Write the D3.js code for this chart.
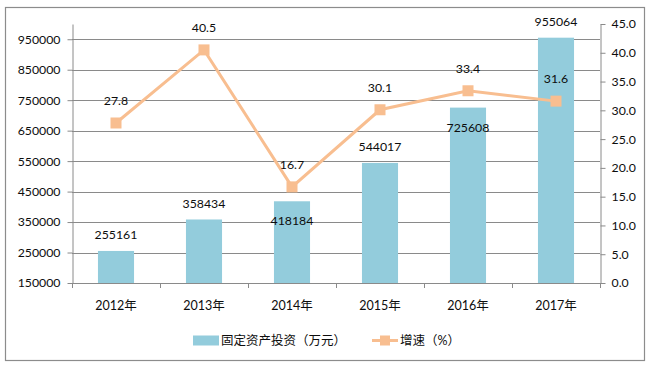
<!DOCTYPE html>
<html>
<head>
<meta charset="utf-8">
<script src="https://cdn.jsdelivr.net/npm/d3@7/dist/d3.min.js"></script>
<style>
  html, body { margin: 0; padding: 0; background: #fff; }
  svg { display: block; }
  text { font-family: Lato, "Noto Sans CJK SC", sans-serif; fill: #0d0d0d; }
</style>
</head>
<body>
<svg id="chart" width="650" height="369"></svg>
<script>
// ---- data ----
const categories = ["2012年", "2013年", "2014年", "2015年", "2016年", "2017年"];
const investment = [255161, 358434, 418184, 544017, 725608, 955064];
const growth = [27.8, 40.5, 16.7, 30.1, 33.4, 31.6];
const leftTicks = [150000, 250000, 350000, 450000, 550000, 650000, 750000, 850000, 950000];
const rightTicks = [0, 5, 10, 15, 20, 25, 30, 35, 40, 45];
const seriesNames = ["固定资产投资（万元）", "增速（%）"];
// label placement (inside bar top vs above)
const barLabelInside = [false, false, true, false, true, false];

// ---- layout ----
const svg = d3.select("#chart");
const plotL = 72, plotR = 600, plotT = 24, plotB = 283;
const barColor = "#93CCDC", lineColor = "#F8BE90", gridColor = "#8a8a8a";

svg.append("rect").attr("x", 5.5).attr("y", 7.5).attr("width", 639).attr("height", 353)
  .attr("fill", "#fff").attr("stroke", "#8c8c8c").attr("stroke-width", 1.2);

const x = d3.scaleBand().domain(categories).range([plotL, plotR])
  .paddingInner(0.59).paddingOuter(0.295);
const step = x.step();
const yL = d3.scaleLinear().domain([150000, 1000000]).range([plotB, plotT]);
const yR = d3.scaleLinear().domain([0, 45]).range([plotB, plotT]);

// gridlines
svg.append("g").selectAll("line").data(leftTicks.slice(1)).join("line")
  .attr("x1", plotL).attr("x2", plotR)
  .attr("y1", d => Math.round(yL(d)) + 0.5).attr("y2", d => Math.round(yL(d)) + 0.5)
  .attr("stroke", gridColor).attr("stroke-width", 1);

// bars
svg.append("g").selectAll("rect").data(investment).join("rect")
  .attr("x", (d, i) => x(categories[i]))
  .attr("width", x.bandwidth())
  .attr("y", d => yL(d))
  .attr("height", d => plotB - yL(d))
  .attr("fill", barColor);

// left axis
const axL = svg.append("g").attr("transform", `translate(${plotL + 0.5},0)`)
  .call(d3.axisLeft(yL).tickValues(leftTicks).tickFormat(d3.format("d"))
    .tickSize(5).tickSizeOuter(0).tickPadding(7));
// right axis
const axR = svg.append("g").attr("transform", `translate(${plotR + 0.5},0)`)
  .call(d3.axisRight(yR).tickValues(rightTicks).tickFormat(d3.format(".1f"))
    .tickSize(5).tickSizeOuter(0).tickPadding(6));
[axL, axR].forEach(g => {
  g.selectAll("path, line").attr("stroke", gridColor).attr("stroke-width", 1);
  g.selectAll("text").style("font-size", "12.3px").attr("fill", "#0d0d0d");
});

// bottom axis
const bx = svg.append("g");
bx.append("line").attr("x1", plotL).attr("x2", plotR)
  .attr("y1", plotB + 0.5).attr("y2", plotB + 0.5).attr("stroke", gridColor);
const bounds = d3.range(categories.length + 1).map(k => plotL + k * step);
bx.selectAll("line.t").data(bounds).join("line").attr("class", "t")
  .attr("x1", d => Math.round(d) + 0.5).attr("x2", d => Math.round(d) + 0.5)
  .attr("y1", plotB).attr("y2", plotB + 5).attr("stroke", gridColor);
bx.selectAll("text").data(categories).join("text")
  .attr("x", d => x(d) + x.bandwidth() / 2).attr("y", 309.5)
  .attr("text-anchor", "middle").style("font-size", "12.5px").text(d => d);

// bar labels
svg.append("g").selectAll("text").data(investment).join("text")
  .attr("x", (d, i) => x(categories[i]) + x.bandwidth() / 2)
  .attr("y", (d, i) => yL(d) + (barLabelInside[i] ? 24 : -11.5))
  .attr("text-anchor", "middle").style("font-size", "12.3px").text(d => d);

// line
const cx = i => x(categories[i]) + x.bandwidth() / 2;
svg.append("path").datum(growth)
  .attr("d", d3.line().x((d, i) => cx(i)).y(d => yR(d)))
  .attr("fill", "none").attr("stroke", lineColor).attr("stroke-width", 3);
svg.append("g").selectAll("rect").data(growth).join("rect")
  .attr("x", (d, i) => cx(i) - 5.5).attr("y", d => yR(d) - 5.5)
  .attr("width", 11).attr("height", 11).attr("fill", lineColor);
svg.append("g").selectAll("text").data(growth).join("text")
  .attr("x", (d, i) => cx(i)).attr("y", d => yR(d) - 18)
  .attr("text-anchor", "middle").style("font-size", "12.3px").text(d => d.toFixed(1));

// legend
const lg = svg.append("g");
lg.append("rect").attr("x", 193).attr("y", 335.5).attr("width", 26).attr("height", 10).attr("fill", barColor);
lg.append("text").attr("x", 221).attr("y", 345).style("font-size", "12.5px").text(seriesNames[0]);
lg.append("line").attr("x1", 372).attr("x2", 398).attr("y1", 340.5).attr("y2", 340.5)
  .attr("stroke", lineColor).attr("stroke-width", 3);
lg.append("rect").attr("x", 380).attr("y", 335.5).attr("width", 10).attr("height", 10).attr("fill", lineColor);
lg.append("text").attr("x", 400).attr("y", 345).style("font-size", "12.5px").text(seriesNames[1]);
</script>
</body>
</html>
